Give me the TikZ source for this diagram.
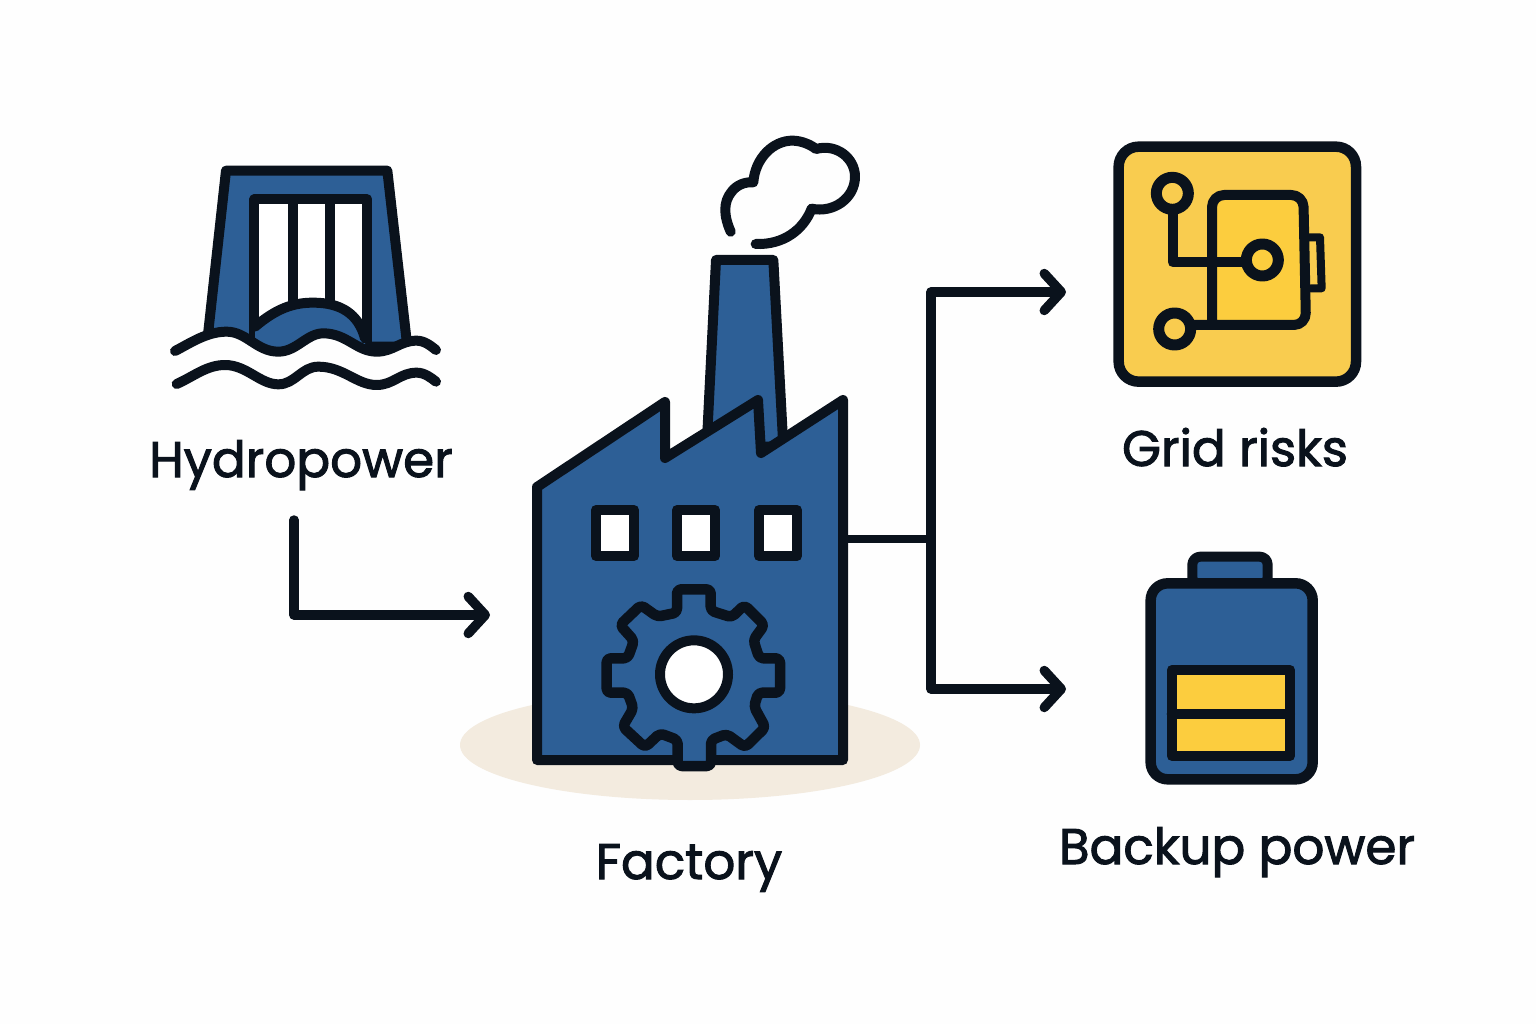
\documentclass[tikz,border=0pt]{standalone}
\usepackage{fontspec}
\setmainfont{Poppins}
\newfontfamily\labelfont{Poppins}[FakeBold=2]
\usetikzlibrary{arrows.meta}
\definecolor{ink}{HTML}{0A121C}
\definecolor{bluefill}{HTML}{2D5F96}
\definecolor{yellowa}{HTML}{F9CC4F}
\definecolor{yellowb}{HTML}{FCCD3E}
\definecolor{ground}{HTML}{F3EBDF}
\definecolor{paper}{HTML}{FEFEFE}
\tikzset{
  zoomed/.style 2 args={shift={(#1,#2)},x=0.33333pt,y=-0.33333pt},
  icon/.style={draw=ink,line width=10pt,line join=round,line cap=round},
  thin icon/.style={icon,line width=8.5pt},
  label/.style={anchor=base,text=ink,font=\labelfont\fontsize{50}{60}\selectfont,inner sep=0pt},
  connector/.style={draw=ink,line width=9.5pt,line join=round,line cap=round},
  flow/.style={connector,-{Straight Barb[length=17pt,width=37pt,round]}},
}
\def\waveone{(75,603) .. controls (120,580) and (170,545) .. (230,545) .. controls (290,545) and (320,605) .. (385,605) .. controls (440,605) and (470,550) .. (520,550) .. controls (590,550) and (620,605) .. (680,605) .. controls (730,605) and (750,572) .. (800,572) .. controls (825,572) and (845,590) .. (858,600)}
\begin{document}
\begin{tikzpicture}[x=1pt,y=-1pt]
\path[use as bounding box,fill=paper] (0,0) rectangle (1536,1024);

% ground
\fill[ground] (690,745) ellipse [x radius=230pt,y radius=55pt];

% dam
\begin{scope}[zoomed={150}{150}]
  \path[icon,fill=bluefill] (228,62) -- (712,62) -- (772,590) -- (170,590) -- cycle;
  \path[icon,fill=white] (313,148) -- (652,148) -- (652,625) -- (313,625) -- cycle;
  \draw[icon] (428,148) -- (428,470) (541,148) -- (541,470);
  \path[fill=bluefill] (315,530) .. controls (380,475) and (430,458) .. (490,458)
     .. controls (570,458) and (625,490) .. (645,565) -- (645,625) -- (315,625) -- cycle;
  \draw[icon] (315,530) .. controls (380,475) and (430,458) .. (490,458)
     .. controls (570,458) and (625,490) .. (645,565);
  \fill[paper] \waveone -- (858,690) -- (75,690) -- cycle;
  \draw[icon] \waveone;
  \draw[icon] (80,702) .. controls (130,680) and (170,645) .. (225,645) .. controls (290,645) and (330,703) .. (385,703) .. controls (435,703) and (455,650) .. (505,650) .. controls (580,650) and (620,705) .. (680,705) .. controls (730,705) and (750,668) .. (800,668) .. controls (825,668) and (845,685) .. (858,695);
\end{scope}

% smoke
\begin{scope}[zoomed={690}{130}]
  \draw[icon] (122,305) .. controls (100,255) and (100,215) .. (125,185)
     .. controls (140,165) and (165,155) .. (190,157)
     .. controls (195,85) and (250,30) .. (310,32)
     .. controls (335,33) and (360,43) .. (378,57)
     .. controls (440,40) and (495,85) .. (495,140)
     .. controls (495,205) and (430,250) .. (365,236)
     .. controls (340,300) and (280,345) .. (197,342);
  \path[icon,fill=bluefill] (78,390) -- (250,390) -- (280,950) -- (50,950) -- cycle;
\end{scope}

% factory
\path[icon,fill=bluefill] (537,487) -- (665,402) -- (665,458) -- (758,400) -- (761,453) -- (843,400) -- (843,760) -- (537,760) -- cycle;
\coordinate (factoryout) at (843,539);
\coordinate (factoryin) at (490,615);

% windows
\path[icon,fill=white] (596,510) rectangle (634,556);
\path[icon,fill=white] (677,510) rectangle (715,556);
\path[icon,fill=white] (759,510) rectangle (797,556);

% gear
\begin{scope}[zoomed={580}{490}]
  \path[icon,line width=10.5pt,fill=bluefill,rounded corners=4pt]
    (291,368) -- (291,298) -- (392,298) -- (392,362) -- (455,382) -- (493,345) -- (553,405) -- (520,450)
    -- (538,505) -- (600,505) -- (600,608) -- (535,608) -- (522,650) -- (556,712) -- (495,772) -- (440,732)
    -- (393,750) -- (393,828) -- (293,828) -- (293,750) -- (240,730) -- (195,772) -- (128,710) -- (160,655)
    -- (143,608) -- (80,608) -- (80,505) -- (143,505) -- (162,452) -- (120,405) -- (183,345) -- (232,380) -- cycle;
  \path[icon,fill=white] (342,553) circle [radius=34pt];
\end{scope}

% grid risks icon
\begin{scope}[zoomed={1100}{130}]
  \path[draw=ink,line width=10.5pt,fill=yellowa,rounded corners=20pt] (56,50) rectangle (768,755);
  \path[fill=yellowb,rounded corners=12pt] (336,197) -- (610,197) -- (618,585) -- (336,585) -- cycle;
  \draw[icon,rounded corners=12pt] (336,585) -- (336,195) -- (610,195) -- (618,585) -- (280,585);
  \draw[thin icon,line width=8pt] (628,322) -- (660,322) -- (665,475) -- (632,475);
  \draw[icon] (218,240) -- (218,397) -- (440,397);
  \path[icon,line width=11pt,fill=yellowa] (217,190) circle [radius=16pt];
  \path[icon,line width=11pt,fill=yellowa] (224,597) circle [radius=16pt];
  \path[icon,line width=11pt,fill=yellowb] (487,390) circle [radius=16pt];
\end{scope}

% battery
\begin{scope}[zoomed={1130}{540}]
  \path[icon,fill=bluefill,rounded corners=8pt] (187,135) -- (187,50) -- (413,50) -- (413,135) -- cycle;
  \path[draw=ink,line width=10.5pt,fill=bluefill,rounded corners=17pt] (62,130) rectangle (548,718);
  \path[icon,fill=yellowb] (125,390) rectangle (480,648);
  \draw[icon] (125,522) -- (480,522);
\end{scope}

% labels
\node[label] (hydro) at (301,477) {Hydropower};
\node[label] (factory) at (689,879) {Factory};
\node[label] (grid) at (1235,466) {Grid risks};
\node[label] (backup) at (1237,864) {Backup power};

% connectors
\coordinate (hydroout) at (294,520);
\coordinate (junction) at (931,539);
\coordinate (gridin) at (1066,292);
\coordinate (backupin) at (1066,689);
\draw[flow] (hydroout) |- (factoryin);
\draw[connector,line width=8.5pt,line cap=butt] (factoryout) -- (junction);
\draw[flow] (junction) |- (gridin);
\draw[flow] (junction) |- (backupin);
\end{tikzpicture}
\end{document}
